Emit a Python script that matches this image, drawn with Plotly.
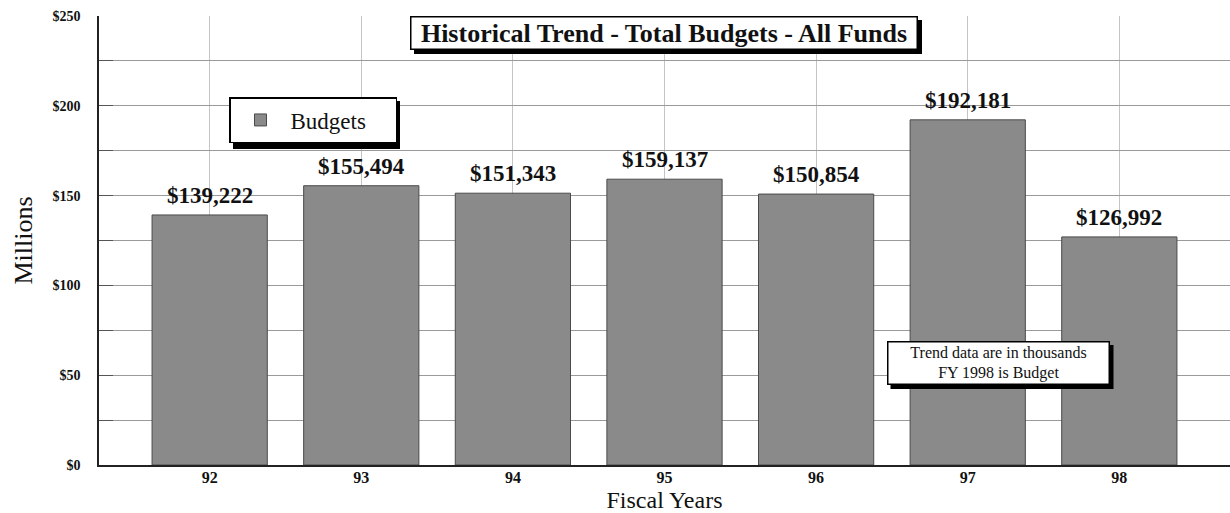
import plotly.graph_objects as go

# Fiscal years and total budgets (all funds), in thousands of dollars
fiscal_years = ["92", "93", "94", "95", "96", "97", "98"]
budgets_thousands = [139222, 155494, 151343, 159137, 150854, 192181, 126992]

# Y axis (millions)
y_tick_vals = [0, 25, 50, 75, 100, 125, 150, 175, 200, 225, 250]
y_tick_text = ["$0", "", "$50", "", "$100", "", "$150", "", "$200", "", "$250"]

SERIF = "Liberation Serif, Times New Roman, serif"

budgets_millions = [v / 1000 for v in budgets_thousands]
bar_labels = [f"${v:,}" for v in budgets_thousands]

fig = go.Figure()
fig.add_trace(go.Bar(
    x=fiscal_years,
    y=budgets_millions,
    name="Budgets",
    width=0.76,
    marker=dict(color="#8a8a8a", line=dict(color="#4a4a4a", width=1)),
    hoverinfo="skip",
))

# Value labels above each bar (category index as x position)
for i, (val, lab) in enumerate(zip(budgets_millions, bar_labels)):
    fig.add_annotation(x=i, y=val, xref="x", yref="y", text=f"<b>{lab}</b>",
                       showarrow=False, xanchor="center", yanchor="bottom", yshift=5,
                       font=dict(family=SERIF, size=23, color="#111"))

# Plot-area geometry in pixels, used to place boxes in paper coordinates
L, R, T, B = 99, 0, 16, 48
W, H = 1230, 513
pw, ph = W - L - R, H - T - B


def px_x(x):
    return (x - L) / pw


def px_y(y):
    return (H - B - y) / ph


def boxed_note(text, cx, cy, w, h, size, bold=False, shadow=4):
    """Fixed-size text box (pixel centre and size) with a black drop shadow."""
    body = f"<b>{text}</b>" if bold else text
    fig.add_shape(type="rect", xref="paper", yref="paper",
                  x0=px_x(cx - w / 2 + shadow), x1=px_x(cx + w / 2 + shadow),
                  y0=px_y(cy + h / 2 + shadow), y1=px_y(cy - h / 2 + shadow),
                  fillcolor="black", line=dict(width=0), layer="above")
    fig.add_annotation(text=body, xref="paper", yref="paper",
                       x=px_x(cx), y=px_y(cy), xanchor="center", yanchor="middle",
                       width=w - 3, height=h - 3, borderpad=0, showarrow=False,
                       align="center", valign="middle",
                       font=dict(family=SERIF, size=size, color="#111"),
                       bgcolor="white", bordercolor="black", borderwidth=1.5)


boxed_note("Historical Trend - Total Budgets - All Funds", 664, 33, 508, 34, 26, bold=True)
boxed_note("Trend data are in thousands<br>FY 1998 is Budget", 998, 363, 223, 44, 16)

# Shadow behind the legend box
fig.add_shape(type="rect", xref="paper", yref="paper",
              x0=px_x(233), x1=px_x(400), y0=px_y(149), y1=px_y(101),
              fillcolor="black", line=dict(width=0), layer="above")

fig.update_layout(
    width=W, height=H,
    margin=dict(l=L, r=R, t=T, b=B),
    paper_bgcolor="white",
    plot_bgcolor="white",
    showlegend=True,
    legend=dict(
        x=px_x(229), y=px_y(97), xanchor="left", yanchor="top",
        orientation="h",
        bgcolor="white", bordercolor="black", borderwidth=1.5,
        font=dict(family=SERIF, size=23, color="#111"),
        itemwidth=50, entrywidth=100,
    ),
    xaxis=dict(
        range=[-0.73, 6.73],
        automargin=False,
        showgrid=True, gridcolor="#c4c4c4", gridwidth=1,
        showline=True, linecolor="#222", linewidth=1.5,
        ticks="", tickfont=dict(family=SERIF, size=16, color="#111"),
        ticklabelstandoff=-3,
        tickprefix="<b>", ticksuffix="</b>",
        title=dict(text="Fiscal Years", font=dict(family=SERIF, size=24, color="#111"), standoff=12),
    ),
    yaxis=dict(
        range=[0, 250],
        automargin=False,
        tickvals=y_tick_vals, ticktext=[f"<b>{t}</b>" if t else "" for t in y_tick_text],
        tickfont=dict(family=SERIF, size=14, color="#111"),
        ticklabelstandoff=14,
        showgrid=True, gridcolor="#9a9a9a", gridwidth=1,
        showline=True, linecolor="#222", linewidth=1.5,
        ticks="inside", ticklen=14, tickcolor="#555",
        title=dict(text="Millions", font=dict(family=SERIF, size=26, color="#111"), standoff=12),
        zeroline=False,
    ),
)

fig.write_html("out.html")
